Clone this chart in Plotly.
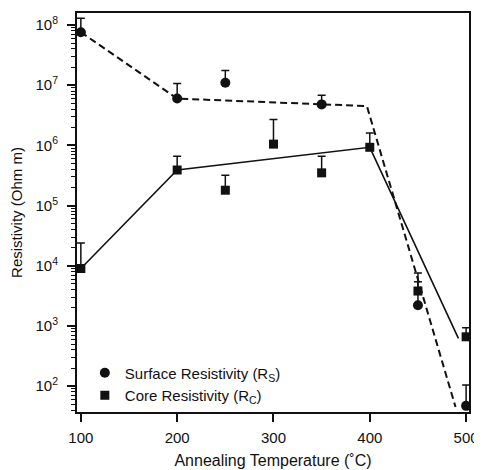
import plotly.graph_objects as go

# Surface resistivity (circles)
surf_T = [100, 200, 250, 350, 450, 500]
surf_R = [7.6e7, 6.0e6, 1.1e7, 4.8e6, 2.2e3, 47]
surf_err_top = [1.3e8, 1.07e7, 1.75e7, 6.8e6, 5.4e3, 104]

# Core resistivity (squares)
core_T = [100, 200, 250, 300, 350, 400, 450, 500]
core_R = [9.0e3, 3.9e5, 1.8e5, 1.05e6, 3.5e5, 9.3e5, 3.8e3, 660]
core_err_top = [2.4e4, 6.6e5, 3.2e5, 2.7e6, 6.6e5, 1.6e6, 7.6e3, 930]

# Guide lines
surf_fit_T = [100, 200, 397, 489]
surf_fit_R = [7.6e7, 6.0e6, 4.5e6, 45]
core_fit_T = [100, 200, 400, 492]
core_fit_R = [9.0e3, 3.9e5, 9.3e5, 620]

ytick_vals = [1e2, 1e3, 1e4, 1e5, 1e6, 1e7, 1e8]
ytick_text = ["10<sup>2</sup>", "10<sup>3</sup>", "10<sup>4</sup>", "10<sup>5</sup>",
              "10<sup>6</sup>", "10<sup>7</sup>", "10<sup>8</sup>"]
xtick_vals = [100, 200, 300, 400, 500]

minor_vals = [m * 10 ** e for e in range(1, 9) for m in range(2, 10)]

FONT = "Liberation Sans, Arial, sans-serif"
INK = "#111111"

fig = go.Figure()
fig.add_trace(go.Scatter(x=surf_fit_T, y=surf_fit_R, mode="lines",
                         line=dict(color=INK, width=2, dash="7px,4px"),
                         showlegend=False, hoverinfo="skip"))
fig.add_trace(go.Scatter(x=core_fit_T, y=core_fit_R, mode="lines",
                         line=dict(color=INK, width=1.6),
                         showlegend=False, hoverinfo="skip"))

fig.add_trace(go.Scatter(
    x=surf_T, y=surf_R, mode="markers", name="Surface Resistivity (R<sub>S</sub>)",
    marker=dict(symbol="circle", size=10, color=INK),
    error_y=dict(type="data", symmetric=False,
                 array=[t - v for t, v in zip(surf_err_top, surf_R)],
                 arrayminus=[0] * len(surf_R), color=INK, thickness=1.5, width=4)))
fig.add_trace(go.Scatter(
    x=core_T, y=core_R, mode="markers", name="Core Resistivity (R<sub>C</sub>)",
    marker=dict(symbol="square", size=9, color=INK),
    error_y=dict(type="data", symmetric=False,
                 array=[t - v for t, v in zip(core_err_top, core_R)],
                 arrayminus=[0] * len(core_R), color=INK, thickness=1.5, width=4)))

fig.update_layout(
    width=474, height=462,
    margin=dict(l=69, r=8, t=3, b=57),
    paper_bgcolor="white", plot_bgcolor="white",
    font=dict(family=FONT, size=15, color=INK),
    showlegend=True,
    legend=dict(x=0.02, y=0.139, xanchor="left", yanchor="top",
                bgcolor="rgba(0,0,0,0)", font=dict(size=15),
                tracegroupgap=0, itemsizing="trace"),
    xaxis=dict(range=[96, 503], tickvals=xtick_vals, ticks="outside", ticklen=8,
               tickwidth=1.5, tickcolor=INK, showline=True, linewidth=2,
               linecolor=INK, mirror=True, showgrid=False, zeroline=False,
               tickfont=dict(size=15), ticklabelstandoff=3,
               ticklabeloverflow="allow",
               title=dict(text="Annealing Temperature (˚C)", font=dict(size=16),
                          standoff=10)),
    yaxis=dict(type="log", range=[1.57, 8.2], tickvals=ytick_vals, ticktext=ytick_text,
               ticks="outside", ticklen=8, tickwidth=1.5, tickcolor=INK,
               showline=True, linewidth=2, linecolor=INK, mirror=True,
               showgrid=False, zeroline=False, tickfont=dict(size=15),
               ticklabelstandoff=6,
               minor=dict(tickvals=minor_vals, ticks="outside", ticklen=4,
                          tickwidth=1, tickcolor=INK, showgrid=False),
               title=dict(text="Resistivity (Ohm m)", font=dict(size=15), standoff=11)),
)

fig.write_html("out.html")
